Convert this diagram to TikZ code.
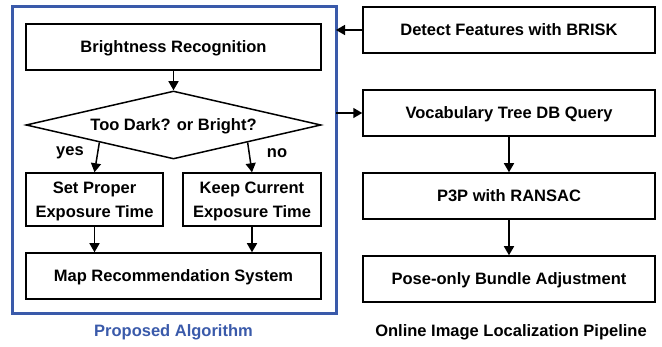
\documentclass[tikz,border=0pt]{standalone}
\usepackage{fontspec}
\setmainfont{Liberation Sans}
\usetikzlibrary{shapes.geometric,arrows.meta}
\definecolor{frameblue}{RGB}{58,90,170}
\begin{document}
\begin{tikzpicture}[x=1pt,y=-1pt,
  every node/.style={font=\fontsize{16.5}{24}\selectfont\bfseries},
  box/.style={draw,line width=1.5pt,inner sep=0pt,align=center,text depth=0pt},
  arr/.style={line width=1.5pt,-{Triangle[length=9pt,width=10pt]}},
  lbl/.style={inner sep=0pt}]
\useasboundingbox (0,0) rectangle (662,347);
\draw[frameblue,line width=3pt] (12,7) rectangle (336,314);
% left column
\node[box,minimum width=295pt,minimum height=46pt] (br) at (173.5,47) {Brightness Recognition};
\node[draw,line width=1.5pt,shape=diamond,aspect=4.34,inner sep=0pt,text depth=0pt,minimum width=295pt,minimum height=68pt] (dia) at (173.5,125) {Too Dark? or Bright?};
\node[box,minimum width=137pt,minimum height=53pt] (set) at (94.5,199.5) {Set Proper\\Exposure Time};
\node[box,minimum width=138pt,minimum height=53pt] (keep) at (252,199.5) {Keep Current\\Exposure Time};
\node[box,minimum width=295pt,minimum height=46pt] (map) at (173.5,276) {Map Recommendation System};
\node[lbl,text=frameblue] (pa) at (173.5,332) {Proposed Algorithm};
\node[lbl] (yes) at (70,153) {yes};
\node[lbl] (no) at (277,153) {no};
% right column
\node[box,minimum width=292pt,minimum height=46pt] (det) at (509,30) {Detect Features with BRISK};
\node[box,minimum width=292pt,minimum height=46pt] (voc) at (509,113) {Vocabulary Tree DB Query};
\node[box,minimum width=292pt,minimum height=46pt] (p3p) at (509,196) {P3P with RANSAC};
\node[box,minimum width=292pt,minimum height=46pt] (pose) at (509,279) {Pose-only Bundle Adjustment};
\node[lbl] (ol) at (511,332) {Online Image Localization Pipeline};
\coordinate (fr1) at (336,30);
\coordinate (fr2) at (336,113);
% arrows
\draw[arr] (br.south) -- (dia.north);
\draw[arr] (dia.south west) -- (set.north);
\draw[arr] (dia.south east) -- (keep.north);
\draw[arr] (set.south) -- (set.south |- map.north);
\draw[arr] (keep.south) -- (keep.south |- map.north);
\draw[arr] (det.west) -- (fr1);
\draw[arr] (fr2) -- (voc.west);
\draw[arr] (voc.south) -- (p3p.north);
\draw[arr] (p3p.south) -- (pose.north);
\end{tikzpicture}
\end{document}
